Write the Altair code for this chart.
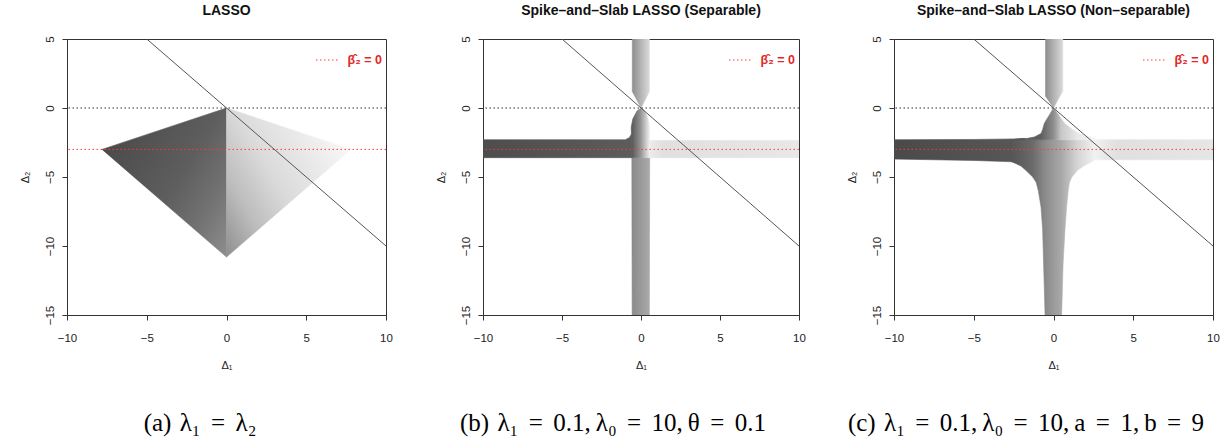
import altair as alt
import pandas as pd

# ---------------- data ----------------
widths = [319, 316, 319]
H = 276
x_ticks = [-10, -5, 0, 5, 10]
y_ticks = [-15, -10, -5, 0, 5]
x_domain = [-10, 10]
y_domain = [-15, 5]

titles = ["LASSO",
          "Spike–and–Slab LASSO (Separable)",
          "Spike–and–Slab LASSO (Non–separable)"]
S1 = "\u2004"            # space after the sub-figure label
SE = "\u2004\u200a"      # space around "="
SC = "\u2009"            # space after a comma
captions = [f"(a){S1}λ₁{SE}={SE}λ₂",
            f"(b){S1}λ₁{SE}={SE}0.1,{SC}λ₀{SE}={SE}10,{SC}θ{SE}={SE}0.1",
            f"(c){S1}λ₁{SE}={SE}0.1,{SC}λ₀{SE}={SE}10,{SC}a{SE}={SE}1,{SC}b{SE}={SE}9"]
legend_label = "β̂₂ = 0"

diag_x = [-5.0, 10.0]
diag_y = [5.0, -10.0]
zero_line = [0.0]
beta_zero_line = [-3.0]

# Panel (a) LASSO region, split at x = 0
lasso_left_x = [-7.8, 0.0]
lasso_left_top = [-3.0, 0.0]
lasso_left_bot = [-3.0, -10.8]
lasso_right_x = [0.0, 7.8]
lasso_right_top = [0.0, -3.0]
lasso_right_bot = [-10.8, -3.0]

# Panel (b) separable
sep_lband_x = [-10.0, -1.0, -0.75, -0.6]
sep_lband_top = [-2.3, -2.3, -2.15, -1.9]
sep_lband_bot = [-3.6, -3.6, -3.6, -3.6]
sep_rband_x = [0.5, 10.0]
sep_rband_top = [-2.35, -2.35]
sep_rband_bot = [-3.6, -3.6]
sep_top_y = [0.0, 1.2, 5.0]
sep_top_xl = [0.0, -0.55, -0.55]
sep_top_xr = [0.0, 0.53, 0.53]
sep_mid_y = [-3.6, -2.3, -1.4, -0.8, -0.2, 0.0]
sep_mid_xl = [-0.6, -0.6, -0.62, -0.52, -0.25, 0.0]
sep_mid_xr = [0.55, 0.55, 0.55, 0.45, 0.25, 0.0]
sep_stem_y = [-15.0, -3.6]
sep_stem_xl = [-0.56, -0.58]
sep_stem_xr = [0.53, 0.55]

# Panel (c) non-separable
ns_lband_x = [-10.0, -5.0, -2.5, -1.8]
ns_lband_top = [-2.3, -2.28, -2.24, -2.2]
ns_lband_bot = [-3.7, -3.8, -3.9, -4.0]
ns_rband_x = [2.5, 10.0]
ns_rband_top = [-2.3, -2.3]
ns_rband_bot = [-3.75, -3.75]
ns_top_y = [0.0, 0.85, 1.22, 5.0]
ns_top_xl = [0.0, -0.5, -0.5, -0.5]
ns_top_xr = [0.0, 0.4, 0.58, 0.58]
ns_up_y = [-2.3, -2.2, -2.1, -1.85, -1.55, -1.1, -0.5, 0.0]
ns_up_xl = [-2.7, -1.62, -1.2, -0.78, -0.68, -0.57, -0.26, 0.0]
ns_up_xr = [2.6, 2.56, 2.33, 1.6, 1.18, 0.69, 0.32, 0.0]
ns_low_y = [-15.0, -11.3, -8.8, -7.2, -6.0, -5.4, -5.0, -4.5, -4.2, -3.85, -2.3]
ns_low_xl = [-0.53, -0.62, -0.68, -0.78, -0.95, -1.08, -1.3, -1.75, -2.04, -2.7, -2.7]
ns_low_xr = [0.51, 0.6, 0.72, 0.82, 0.92, 1.0, 1.15, 1.52, 1.9, 2.5, 2.6]

# ---------------- helpers ----------------
XS = alt.Scale(domain=x_domain, nice=False, zero=False)
YS = alt.Scale(domain=y_domain, nice=False, zero=False)
AX = alt.Axis(values=x_ticks, title="Δ₁", labelFlush=False)
AY = alt.Axis(values=y_ticks, title="Δ₂", labelFlush=False)
SANS = "Liberation Sans"
RED = "#ff3a3a"


def grad(stops, x1=0, y1=0, x2=1, y2=0):
    return alt.Gradient(gradient="linear",
                        stops=[alt.GradientStop(offset=o, color=c) for o, c in stops],
                        x1=x1, y1=y1, x2=x2, y2=y2)


def vshape(xs, top, bot, g):
    df = pd.DataFrame({"x": xs, "top": top, "bot": bot})
    return alt.Chart(df).mark_area(color=g, stroke=g, strokeWidth=0.6, clip=True).encode(
        x=alt.X("x:Q", scale=XS, axis=AX),
        y=alt.Y("top:Q", scale=YS, axis=AY),
        y2="bot:Q")


def hshape(ys, xl, xr, g):
    df = pd.DataFrame({"y": ys, "xl": xl, "xr": xr})
    return alt.Chart(df).mark_area(orient="horizontal", color=g, stroke=g,
                                   strokeWidth=0.6, clip=True).encode(
        y=alt.Y("y:Q", scale=YS, axis=AY),
        x=alt.X("xl:Q", scale=XS, axis=AX),
        x2="xr:Q")


def overlays(W):
    diag = alt.Chart(pd.DataFrame({"x": diag_x, "y": diag_y})).mark_line(
        color="#555555", strokeWidth=1, clip=True).encode(
        x=alt.X("x:Q", scale=XS, axis=AX),
        y=alt.Y("y:Q", scale=YS, axis=AY))
    zero = alt.Chart(pd.DataFrame({"y": zero_line})).mark_rule(
        color="#333333", strokeWidth=1, strokeDash=[1.5, 2.5]).encode(
        y=alt.Y("y:Q", scale=YS, axis=AY))
    red = alt.Chart(pd.DataFrame({"y": beta_zero_line})).mark_rule(
        color=RED, strokeWidth=1, strokeDash=[1.5, 2.5]).encode(
        y=alt.Y("y:Q", scale=YS, axis=AY))
    leg_line = alt.Chart(pd.DataFrame({"k": [0]})).mark_rule(
        color=RED, strokeWidth=1, strokeDash=[1.5, 2.5]).encode(
        x=alt.value(W - 70), x2=alt.value(W - 48), y=alt.value(21))
    leg_text = alt.Chart(pd.DataFrame({"t": [legend_label]})).mark_text(
        font=SANS, fontSize=12.5, fontWeight="bold", color="#e02828",
        align="right", baseline="middle").encode(
        text="t:N", x=alt.value(W - 4), y=alt.value(21))
    return [zero, red, diag, leg_line, leg_text]


def panel(shapes, title, W):
    return alt.layer(*shapes, *overlays(W)).properties(
        width=W, height=H,
        title=alt.Title(title, font=SANS, fontSize=14, fontWeight="bold",
                        anchor="middle", frame="group", offset=18, color="#111111"))


# ---------------- panels ----------------
p1 = panel([
    vshape(lasso_left_x, lasso_left_top, lasso_left_bot,
           grad([(0, "#4a4a4a"), (0.5, "#5e5e5e"), (0.75, "#727272"), (1, "#8e8e8e")],
                x1=0, y1=0.278, x2=1, y2=1)),
    vshape(lasso_right_x, lasso_right_top, lasso_right_bot,
           grad([(0, "#8e8e8e"), (0.25, "#bcbcbc"), (0.5, "#dadada"), (1, "#f8f8f8")],
                x1=0, y1=1, x2=1, y2=0.278)),
], titles[0], widths[0])

p2 = panel([
    vshape(sep_lband_x, sep_lband_top, sep_lband_bot, grad([(0, "#4d4d4d"), (1, "#5c5c5c")])),
    vshape(sep_rband_x, sep_rband_top, sep_rband_bot,
           grad([(0, "#ececec"), (0.1, "#e0e0e0"), (1, "#e8e8e8")])),
    hshape(sep_stem_y, sep_stem_xl, sep_stem_xr, grad([(0, "#8a8a8a"), (1, "#aaaaaa")])),
    hshape(sep_mid_y, sep_mid_xl, sep_mid_xr,
           grad([(0, "#555555"), (0.5, "#939393"), (1, "#f0f0f0")])),
    hshape(sep_top_y, sep_top_xl, sep_top_xr, grad([(0, "#8e8e8e"), (1, "#dadada")])),
], titles[1], widths[1])

p3 = panel([
    vshape(ns_lband_x, ns_lband_top, ns_lband_bot, grad([(0, "#4a4a4a"), (1, "#585858")])),
    vshape(ns_rband_x, ns_rband_top, ns_rband_bot,
           grad([(0, "#f2f2f2"), (0.2, "#e0e0e0"), (1, "#e6e6e6")])),
    hshape(ns_low_y, ns_low_xl, ns_low_xr,
           grad([(0, "#555555"), (0.26, "#6a6a6a"), (0.406, "#8a8a8a"), (0.604, "#a9a9a9"),
                 (0.79, "#d4d4d4"), (1, "#f2f2f2")])),
    hshape(ns_up_y, ns_up_xl, ns_up_xr,
           grad([(0, "#555555"), (0.36, "#5e5e5e"), (0.51, "#8e8e8e"), (0.6, "#c8c8c8"),
                 (0.79, "#e8e8e8"), (1, "#f5f5f5")])),
    hshape(ns_top_y, ns_top_xl, ns_top_xr, grad([(0, "#8e8e8e"), (1, "#dadada")])),
], titles[2], widths[2])

row = alt.hconcat(p1, alt.hconcat(p2, p3, spacing=40), spacing=42)

# caption strip below the three panels (x positions are layout, in pixels,
# measured from the left edge of the first plot area)
cap_x = [133, 546, 959]
cap_layers = [
    alt.Chart(pd.DataFrame({"t": [c]})).mark_text(
        font="Liberation Serif", fontSize=25, color="#000000",
        align="center", baseline="alphabetic").encode(
        text="t:N", x=alt.value(cx), y=alt.value(59))
    for c, cx in zip(captions, cap_x)
]
cap_strip = alt.layer(*cap_layers).properties(
    width=1100, height=50, view=alt.ViewBackground(stroke="transparent"))

chart = alt.vconcat(row, cap_strip, spacing=0).properties(
    padding={"left": 19, "top": 3, "right": 2, "bottom": 0}
).configure_view(
    stroke="#333333", strokeWidth=1
).configure_axis(
    grid=False, domainColor="#333333", tickColor="#333333", tickSize=5,
    labelFont=SANS, labelFontSize=11.5, labelColor="#222222",
    titleFont=SANS, titleFontSize=11, titleFontWeight="normal", titleColor="#222222"
).configure_axisY(
    labelAngle=-90, labelAlign="center", labelBaseline="bottom", labelPadding=7,
    titlePadding=13.5
).configure_axisX(
    labelPadding=12, titlePadding=16
)

chart.save("out.html", embed_options={"renderer": "svg", "actions": False})
